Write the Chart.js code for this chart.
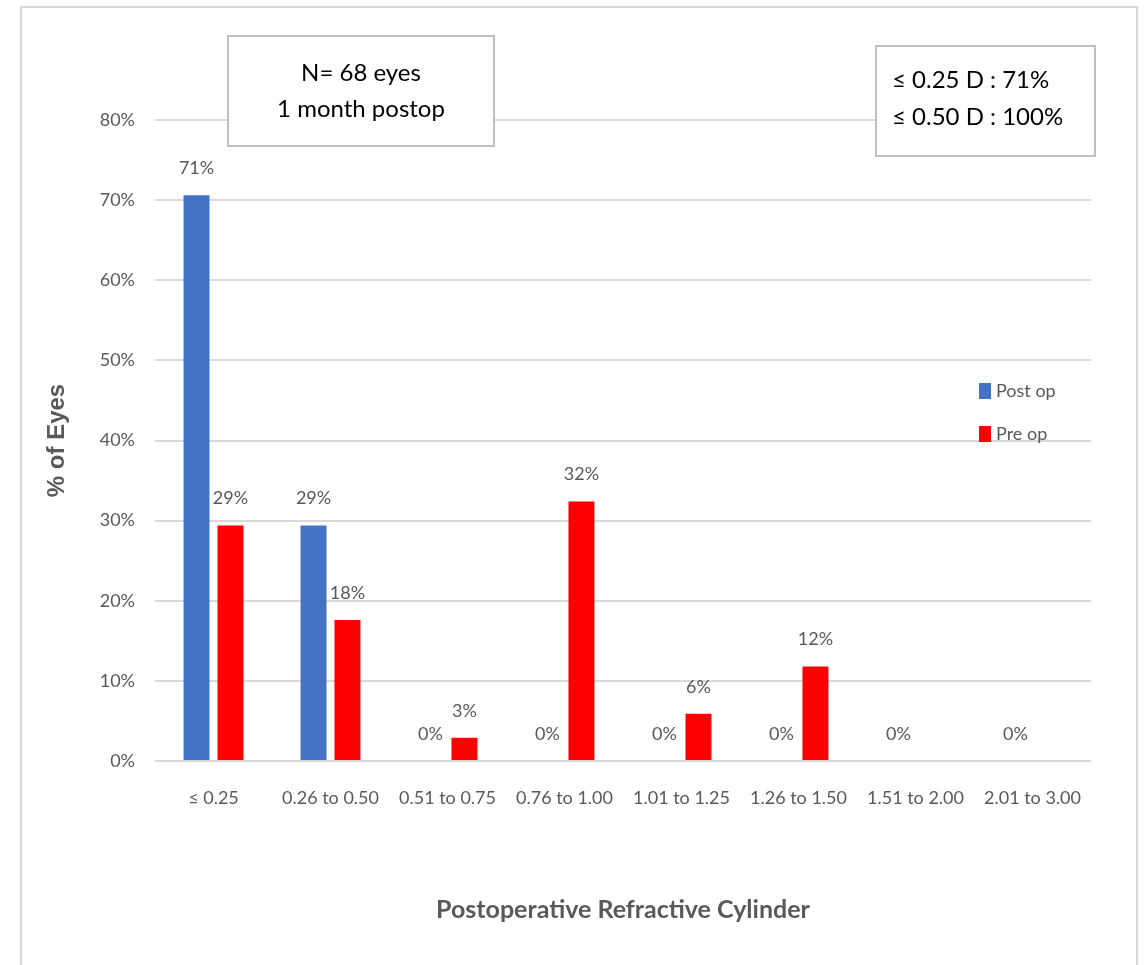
<!DOCTYPE html>
<html>
<head>
<meta charset="utf-8">
<script src="https://cdn.jsdelivr.net/npm/chart.js@4.4.0/dist/chart.umd.min.js"></script>
<style>
html,body{margin:0;padding:0;background:#fff;}
</style>
</head>
<body>
<canvas id="myChart" width="1146" height="965"></canvas>
<script>
const categories = ["≤ 0.25", "0.26 to 0.50", "0.51 to 0.75", "0.76 to 1.00", "1.01 to 1.25", "1.26 to 1.50", "1.51 to 2.00", "2.01 to 3.00"];
const postOp = [70.6, 29.4, 0, 0, 0, 0, 0, 0];
const preOp = [29.4, 17.6, 2.9, 32.4, 5.9, 11.8, 0, 0];
const seriesNames = ["Post op", "Pre op"];
const yTickMax = 80;
const yTickStep = 10;
const noteLeft = ["N= 68 eyes", "1 month postop"];
const noteRight = ["≤ 0.25 D : 71%", "≤ 0.50 D : 100%"];
const xTitle = "Postoperative Refractive Cylinder";
const yTitle = "% of Eyes";

const face = 'Lato, "DejaVu Sans Condensed", sans-serif';
const gray = "#595959";

// outer frame of the chart object
const frame = {
    id: "frame",
    beforeDraw(chart) {
        const c = chart.ctx;
        c.save();
        c.fillStyle = "#fff";
        c.fillRect(0, 0, chart.width, chart.height);
        c.strokeStyle = "#d9d9d9";
        c.lineWidth = 2;
        c.beginPath();
        c.moveTo(21, 980);
        c.lineTo(21, 7);
        c.lineTo(1137, 7);
        c.lineTo(1137, 980);
        c.stroke();
        c.restore();
    }
};

// value labels above bars
const barLabels = {
    id: "barLabels",
    afterDatasetsDraw(chart) {
        const c = chart.ctx;
        c.save();
        c.font = "18px " + face;
        c.fillStyle = gray;
        c.textAlign = "center";
        c.textBaseline = "middle";
        chart.data.datasets.forEach((ds, i) => {
            const meta = chart.getDatasetMeta(i);
            meta.data.forEach((bar, j) => {
                const v = ds.data[j];
                if (v === 0 && ds.hideZero) return;
                c.fillText(Math.round(v) + "%", bar.x, bar.y - 27);
            });
        });
        c.restore();
    }
};

function noteBox(c, x, y, w, h) {
    c.fillStyle = "#fff";
    c.fillRect(x, y, w, h);
    c.strokeStyle = "#bfbfbf";
    c.lineWidth = 2;
    c.strokeRect(x, y, w, h);
}

// text boxes + legend
const extras = {
    id: "extras",
    afterDraw(chart) {
        const c = chart.ctx;
        c.save();
        noteBox(c, 228, 36, 266, 110);
        c.fillStyle = "#000";
        c.font = "24px " + face;
        c.textAlign = "center";
        c.textBaseline = "middle";
        c.fillText(noteLeft[0], 361, 73);
        c.fillText(noteLeft[1], 361, 109);

        noteBox(c, 876, 46, 219, 110);
        c.fillStyle = "#000";
        c.textAlign = "left";
        c.fillText(noteRight[0], 892, 80);
        c.fillText(noteRight[1], 892, 117);

        c.font = "18px " + face;
        chart.data.datasets.forEach((ds, i) => {
            const y = 391 + i * 43;
            c.fillStyle = ds.backgroundColor;
            c.fillRect(979, y - 8, 12, 16);
            c.fillStyle = gray;
            c.fillText(ds.label, 996, y);
        });
        c.restore();
    }
};

new Chart("myChart", {
    type: "bar",
    data: {
        labels: categories,
        datasets: [{
            label: seriesNames[0],
            data: postOp,
            backgroundColor: "#4472C4"
        }, {
            label: seriesNames[1],
            data: preOp,
            backgroundColor: "#FF0000",
            hideZero: true
        }]
    },
    options: {
        responsive: false,
        animation: false,
        categoryPercentage: 0.58,
        barPercentage: 0.765,
        layout: { padding: { top: 120, right: 55, bottom: 0, left: 0 } },
        plugins: {
            legend: { display: false },
            tooltip: { enabled: false }
        },
        scales: {
            x: {
                grid: { display: false, drawTicks: false },
                border: { display: false },
                ticks: { color: gray, font: { family: face, size: 18 }, padding: 26, maxRotation: 0 },
                title: { display: true, text: xTitle, color: gray, font: { family: face, size: 25, weight: "bold" }, padding: { top: 0, bottom: 40 } },
                afterFit(s) { s.height = 204; }
            },
            y: {
                min: 0,
                max: yTickMax,
                ticks: { stepSize: yTickStep, color: gray, font: { family: face, size: 18 }, padding: 20, callback: v => v + "%" },
                grid: { color: "#d9d9d9", lineWidth: 2, drawTicks: false },
                border: { display: false },
                title: { display: true, text: yTitle, color: gray, font: { family: '"Liberation Sans", Arial, sans-serif', size: 24, weight: "bold" }, padding: { top: 43, bottom: 0 } },
                afterFit(s) { s.width = 155; }
            }
        }
    },
    plugins: [frame, barLabels, extras]
});
</script>
</body>
</html>
